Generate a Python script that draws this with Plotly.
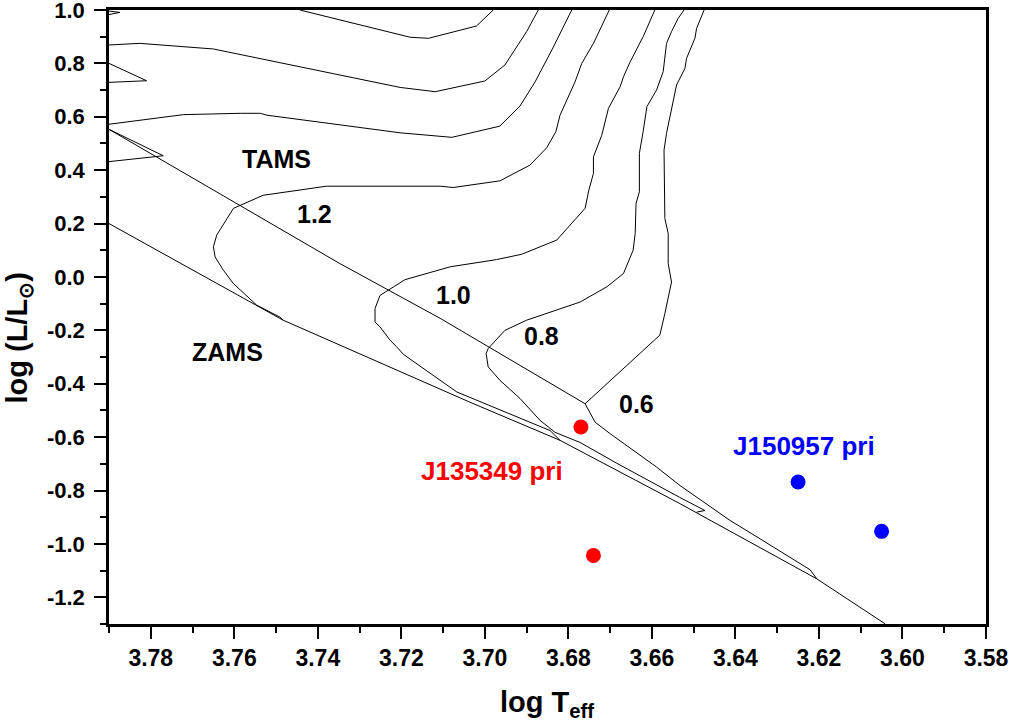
import plotly.graph_objects as go

# ---------------- data ----------------
zams_x = [3.790, 3.7483, 3.7036, 3.6820, 3.6533, 3.6205, 3.6042]
zams_y = [0.200, -0.162, -0.469, -0.612, -0.849, -1.131, -1.299]

tams_x = [3.790, 3.7690, 3.7347, 3.7107, 3.6760]
tams_y = [0.553, 0.363, 0.050, -0.155, -0.475]

m12_x = [3.7483, 3.7491, 3.7546, 3.7602, 3.7626, 3.7646, 3.7650, 3.7642, 3.7602, 3.7531,
         3.7379, 3.7107, 3.7076, 3.6964, 3.6892, 3.6852, 3.6830, 3.6820, 3.6784, 3.6768,
         3.6740, 3.6702]
m12_y = [-0.162, -0.150, -0.106, -0.025, 0.025, 0.075, 0.113, 0.157, 0.257, 0.306,
         0.340, 0.340, 0.335, 0.360, 0.419, 0.484, 0.544, 0.606, 0.731, 0.800,
         0.875, 1.000]

m10_x = [3.6820, 3.6844, 3.6860, 3.7036, 3.7067, 3.7107, 3.7195, 3.7211, 3.7227, 3.7251,
         3.7263, 3.7263, 3.7251, 3.7191, 3.7083, 3.6972, 3.6912, 3.6828, 3.6788, 3.6760,
         3.6751, 3.6740, 3.6740, 3.6720, 3.6704, 3.6676, 3.6668, 3.6652, 3.6621, 3.6593]
m10_y = [-0.612, -0.575, -0.565, -0.450, -0.431, -0.387, -0.290, -0.262, -0.237, -0.187,
         -0.169, -0.118, -0.069, -0.010, 0.038, 0.065, 0.085, 0.138, 0.206, 0.257,
         0.325, 0.388, 0.450, 0.531, 0.632, 0.713, 0.750, 0.806, 0.900, 1.000]

m08_x = [3.6493, 3.6473, 3.6533, 3.6684, 3.6772, 3.6832, 3.6868, 3.6916, 3.6964, 3.6992,
         3.6997, 3.6992, 3.6952, 3.6900, 3.6772, 3.6708, 3.6668, 3.6645, 3.6640, 3.6638,
         3.6630, 3.6630, 3.6621, 3.6612, 3.6589, 3.6573, 3.6565, 3.6553, 3.6537, 3.6523]
m08_y = [-0.881, -0.875, -0.826, -0.698, -0.620, -0.582, -0.537, -0.455, -0.387, -0.337,
         -0.287, -0.268, -0.200, -0.162, -0.094, -0.037, 0.013, 0.100, 0.163, 0.275,
         0.319, 0.463, 0.544, 0.638, 0.700, 0.769, 0.875, 0.919, 0.969, 1.000]

m06_x = [3.6205, 3.6221, 3.6341, 3.6413, 3.6533, 3.6589, 3.6700, 3.6736, 3.6760, 3.6672,
         3.6581, 3.6569, 3.6553, 3.6561, 3.6561, 3.6569, 3.6571, 3.6565, 3.6549, 3.6541,
         3.6521, 3.6517, 3.6497, 3.6493, 3.6475]
m06_y = [-1.131, -1.097, -0.981, -0.912, -0.781, -0.712, -0.587, -0.544, -0.475, -0.350,
         -0.218, -0.137, -0.019, 0.050, 0.163, 0.219, 0.475, 0.538, 0.663, 0.719,
         0.781, 0.819, 0.894, 0.931, 1.000]

# higher-mass tracks entering from the left / top
m14_hook_x = [3.790, 3.7782, 3.7770, 3.790]
m14_hook_y = [0.432, 0.450, 0.454, 0.553]
m14_x = [3.790, 3.7722, 3.7586, 3.7538, 3.7522, 3.7203, 3.7079, 3.6964, 3.6916, 3.6880,
         3.6837, 3.6792]
m14_y = [0.572, 0.608, 0.613, 0.613, 0.606, 0.540, 0.523, 0.565, 0.640, 0.730,
         0.858, 1.000]

m16_hook_x = [3.790, 3.7810, 3.790]
m16_hook_y = [0.729, 0.735, 0.800]
m16_x = [3.790, 3.7826, 3.7650, 3.7522, 3.7203, 3.7119, 3.7000, 3.6952, 3.6928, 3.6900,
         3.6872]
m16_y = [0.869, 0.875, 0.854, 0.813, 0.710, 0.694, 0.734, 0.794, 0.850, 0.919,
         1.000]

m18_hook_x = [3.790, 3.7874, 3.790]
m18_hook_y = [0.983, 0.991, 0.996]
m18_x = [3.7443, 3.7203, 3.7179, 3.7135, 3.7020, 3.6980]
m18_y = [1.000, 0.909, 0.898, 0.894, 0.940, 1.000]

# observed stars
j135349_x = [3.677, 3.674]
j135349_y = [-0.562, -1.043]
j150957_x = [3.625, 3.605]
j150957_y = [-0.768, -0.953]

# text labels
label_text = ["TAMS", "1.2", "1.0", "0.8", "0.6", "ZAMS"]
label_x = [3.750, 3.7407, 3.7074, 3.6864, 3.6638, 3.7616]
label_y = [0.441, 0.235, -0.068, -0.222, -0.477, -0.282]

star_label_text = ["J135349 pri", "J150957 pri"]
star_label_x = [3.6983, 3.6236]
star_label_y = [-0.725, -0.635]
star_label_color = ["#ff0000", "#0000ff"]

x_tickvals = [3.78, 3.76, 3.74, 3.72, 3.70, 3.68, 3.66, 3.64, 3.62, 3.60, 3.58]
x_ticktext = ["3.78", "3.76", "3.74", "3.72", "3.70", "3.68", "3.66", "3.64", "3.62", "3.60", "3.58"]
y_tickvals = [-1.2, -1.0, -0.8, -0.6, -0.4, -0.2, 0.0, 0.2, 0.4, 0.6, 0.8, 1.0]
y_ticktext = ["-1.2", "-1.0", "-0.8", "-0.6", "-0.4", "-0.2", "0.0", "0.2", "0.4", "0.6", "0.8", "1.0"]

# ---------------- figure ----------------
FONT = "Liberation Sans, Arial, Helvetica, sans-serif"
fig = go.Figure()

line_sets = [
    (zams_x, zams_y), (tams_x, tams_y),
    (m12_x, m12_y), (m10_x, m10_y), (m08_x, m08_y), (m06_x, m06_y),
    (m14_hook_x, m14_hook_y), (m14_x, m14_y),
    (m16_hook_x, m16_hook_y), (m16_x, m16_y),
    (m18_hook_x, m18_hook_y), (m18_x, m18_y),
]
for xs, ys in line_sets:
    fig.add_trace(go.Scatter(x=xs, y=ys, mode="lines",
                             line=dict(color="black", width=1),
                             showlegend=False, hoverinfo="skip"))

fig.add_trace(go.Scatter(x=j135349_x, y=j135349_y, mode="markers",
                         marker=dict(color="#ff0000", size=15),
                         showlegend=False))
fig.add_trace(go.Scatter(x=j150957_x, y=j150957_y, mode="markers",
                         marker=dict(color="#0000ff", size=15),
                         showlegend=False))

for t, x, y in zip(label_text, label_x, label_y):
    fig.add_annotation(x=x, y=y, xref="x", yref="y", text=t, showarrow=False,
                       font=dict(family=FONT, size=25, color="black", weight="bold"))
for t, x, y, c in zip(star_label_text, star_label_x, star_label_y, star_label_color):
    fig.add_annotation(x=x, y=y, xref="x", yref="y", text=t, showarrow=False,
                       font=dict(family=FONT, size=26, color=c, weight="bold"))

# axis titles
fig.add_annotation(x=0.4994, y=-0.131, xref="paper", yref="paper",
                   xanchor="center", yanchor="middle",
                   text="log T<sub>eff</sub>", showarrow=False,
                   font=dict(family=FONT, size=29, color="black", weight="bold"))
fig.add_annotation(x=-0.103, y=0.466, xref="paper", yref="paper",
                   xanchor="center", yanchor="middle",
                   text="log (L/L<sub>\u2299</sub>)", showarrow=False, textangle=-90,
                   font=dict(family=FONT, size=29, color="black", weight="bold"))

axis_common = dict(showgrid=False, zeroline=False, showline=True, linecolor="black",
                   linewidth=2.5, mirror=True, ticks="outside", ticklen=12,
                   tickwidth=2, tickcolor="black", automargin=False,
                   ticklabeloverflow="allow")

fig.update_xaxes(range=[3.79, 3.58], tickmode="array", tickvals=x_tickvals,
                 ticktext=x_ticktext, ticklabelstandoff=0,
                 tickfont=dict(family=FONT, size=23, color="black", weight="bold"),
                 minor=dict(ticks="outside", dtick=0.01, tick0=3.58, ticklen=6,
                            tickwidth=2, tickcolor="black"),
                 **axis_common)
fig.update_yaxes(range=[-1.3, 1.0], tickmode="array", tickvals=y_tickvals,
                 ticktext=y_ticktext, ticklabelstandoff=5,
                 tickfont=dict(family=FONT, size=22, color="black", weight="bold"),
                 minor=dict(ticks="outside", dtick=0.1, tick0=0, ticklen=6,
                            tickwidth=2, tickcolor="black"),
                 **axis_common)

fig.update_layout(width=1009, height=727,
                  margin=dict(l=109, r=23, t=10, b=103, pad=0, autoexpand=False),
                  plot_bgcolor="white", paper_bgcolor="white",
                  showlegend=False)

fig.write_html("out.html", config={"displayModeBar": False},
               post_script="document.body.style.margin = '0px';")
